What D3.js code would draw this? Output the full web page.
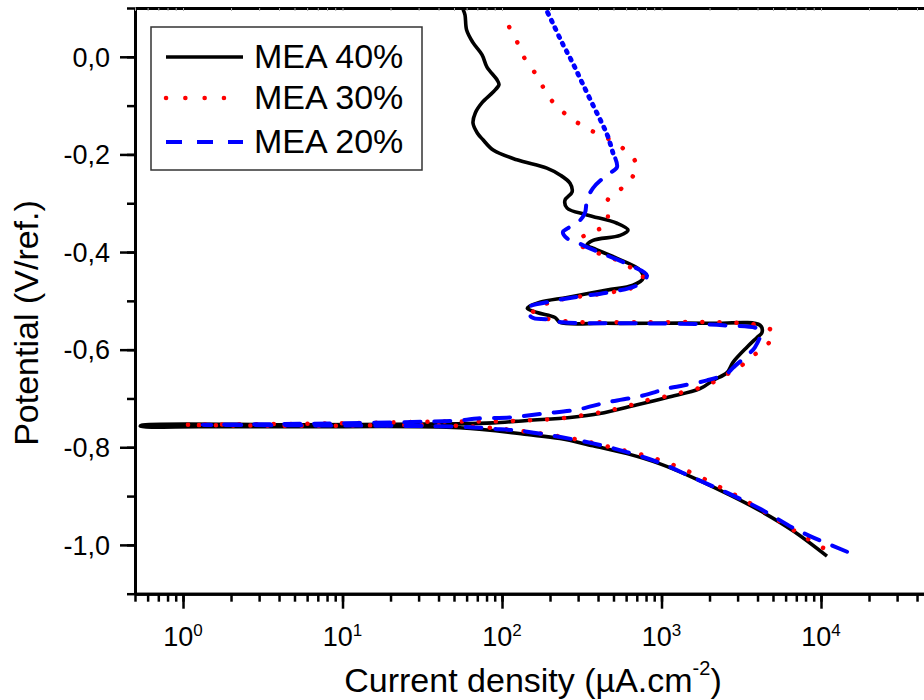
<!DOCTYPE html>
<html>
<head>
<meta charset="utf-8">
<script src="https://cdn.jsdelivr.net/npm/d3@7"></script>
<style>
  body { margin: 0; background: #fff; }
  svg { display: block; font-family: "Liberation Sans", Arial, sans-serif; }
</style>
</head>
<body>
<svg id="chart" width="924" height="700"></svg>
<script>
// polarization curves, [current density µA/cm², potential V/ref], in scan order
const seriesNames = ["MEA 40%", "MEA 30%", "MEA 20%"]

const mea40 = [
  [10900, -1.023], [6670, -0.971], [4150, -0.930], [2574, -0.895], [1575, -0.862],
  [979, -0.834], [608, -0.813], [372, -0.797], [231, -0.782], [144, -0.774],
  [54.5, -0.760], [5.4, -0.758], [1.28, -0.758], [0.54, -0.757], [0.55, -0.755],
  [5.4, -0.754], [54.5, -0.752], [88, -0.750], [144, -0.745], [267, -0.739],
  [411, -0.731], [663, -0.715], [1082, -0.698], [1743, -0.680], [2103, -0.663],
  [2574, -0.647], [2807, -0.626], [3433, -0.595], [3970, -0.575], [4266, -0.565],
  [4150, -0.550], [1928, -0.546], [455, -0.546], [231, -0.544], [215, -0.534],
  [166, -0.524], [144, -0.515], [173, -0.503], [256, -0.493], [455, -0.478],
  [663, -0.468], [766, -0.454], [733, -0.437], [526, -0.413], [372, -0.392],
  [341, -0.386], [372, -0.376], [550, -0.366], [617, -0.355], [526, -0.341],
  [341, -0.324], [256, -0.310], [248, -0.294], [275, -0.277], [267, -0.259],
  [231, -0.242], [191, -0.228], [124, -0.211], [88, -0.191], [76, -0.170],
  [70, -0.156], [65.8, -0.136], [68, -0.115], [75, -0.094], [88, -0.072],
  [95.7, -0.057], [93, -0.047], [80.5, -0.021], [75, 0.004], [65.8, 0.029],
  [60, 0.055], [58.6, 0.086], [57, 0.097]
]

const mea30 = [
  [10300, -1.006], [7710, -0.982], [5000, -0.943], [3105, -0.903], [2430, -0.885],
  [1445, -0.848], [872, -0.821], [496, -0.801], [295, -0.784], [126, -0.766],
  [54.5, -0.756], [5.4, -0.756], [1.03, -0.754], [5.4, -0.752], [54.5, -0.747],
  [88, -0.747], [144, -0.745], [231, -0.741], [372, -0.731], [496, -0.723],
  [653, -0.713], [847, -0.702], [1130, -0.694], [1466, -0.684], [1928, -0.674],
  [2395, -0.655], [3017, -0.639], [3589, -0.616], [4456, -0.595], [5050, -0.565],
  [4030, -0.550], [2430, -0.544], [733, -0.544], [256, -0.542], [181, -0.534],
  [156, -0.520], [200, -0.503], [279, -0.493], [475, -0.483], [663, -0.472],
  [766, -0.448], [635, -0.431], [496, -0.413], [356, -0.396], [295, -0.380],
  [351, -0.361], [449, -0.345], [462, -0.318], [462, -0.292], [565, -0.269],
  [663, -0.244], [692, -0.218], [590, -0.191], [475, -0.170], [367, -0.152],
  [291, -0.133], [241, -0.113], [203, -0.088], [181, -0.062], [161, -0.033],
  [141, -0.008], [130, 0.018], [109, 0.066], [100, 0.092]
]

const mea20 = [
  [14560, -1.014], [8530, -0.982], [6670, -0.965], [4150, -0.926], [2574, -0.893],
  [1575, -0.862], [979, -0.832], [608, -0.810], [372, -0.792], [144, -0.768],
  [88, -0.762], [54.5, -0.758], [5.4, -0.755], [1.33, -0.754], [5.4, -0.752],
  [54.5, -0.745], [70, -0.741], [112, -0.739], [181, -0.731], [295, -0.723],
  [455, -0.708], [766, -0.694], [1082, -0.680], [1928, -0.663], [2574, -0.649],
  [2807, -0.637], [3433, -0.612], [3856, -0.595], [4150, -0.561], [2430, -0.550],
  [733, -0.546], [241, -0.544], [191, -0.538], [154, -0.534], [144, -0.515],
  [191, -0.503], [279, -0.493], [455, -0.483], [702, -0.468], [811, -0.448],
  [635, -0.427], [455, -0.407], [341, -0.390], [295, -0.380], [256, -0.372],
  [241, -0.359], [259, -0.351], [300, -0.339], [331, -0.320], [341, -0.294],
  [372, -0.269], [455, -0.242], [526, -0.226], [496, -0.197], [462, -0.164],
  [429, -0.140], [377, -0.103], [318, -0.053], [275, -0.010], [238, 0.029],
  [206, 0.072], [189, 0.097]
]

const potentialTicks = [-1.1, -1.0, -0.9, -0.8, -0.7, -0.6, -0.5, -0.4, -0.3, -0.2, -0.1, 0.0, 0.1]
const potentialLabels = [-1.0, -0.8, -0.6, -0.4, -0.2, 0.0]
const currentDecades = [1, 10, 100, 1000, 10000, 100000]
const decadeExponents = ["0", "1", "2", "3", "4", "5"]

const svg = d3.select("#chart")
const x = d3.scaleLog().domain([0.5, 1e5]).range([135, 980.5])
const y = d3.scaleLinear().domain([-1.1, 0.1]).range([593.7, 8])

// axes: minor ticks short, labelled ticks long, all outward
const styleAxis = (g) => {
  g.select(".domain").attr("stroke", "#000").attr("stroke-width", 3)
  g.selectAll(".tick line").attr("stroke", "#000").attr("stroke-width", 2.5)
}

svg.append("g")
  .attr("transform", "translate(0,593.7)")
  .call(d3.axisBottom(x).tickValues(x.ticks()).tickSize(8).tickSizeOuter(0).tickFormat(""))
  .call(styleAxis)
svg.append("g")
  .attr("transform", "translate(0,593.7)")
  .call(d3.axisBottom(x).tickValues(currentDecades).tickSize(15).tickSizeOuter(0).tickFormat(""))
  .call(styleAxis)

svg.append("g")
  .attr("transform", "translate(135,0)")
  .call(d3.axisLeft(y).tickValues(potentialTicks).tickSize(8).tickSizeOuter(0).tickFormat(""))
  .call(styleAxis)
svg.append("g")
  .attr("transform", "translate(135,0)")
  .call(d3.axisLeft(y).tickValues(potentialLabels).tickSize(15).tickSizeOuter(0).tickFormat(""))
  .call(styleAxis)

// top frame
svg.append("g")
  .attr("transform", "translate(0,8)")
  .call(d3.axisTop(x).tickValues(x.ticks()).tickSize(-3).tickSizeOuter(0).tickFormat(""))
  .call((g) => {
    g.select(".domain").attr("stroke", "#000").attr("stroke-width", 3)
    g.selectAll(".tick line").attr("stroke", "#aaa").attr("stroke-width", 1)
  })

// tick labels
svg.append("g")
  .selectAll("text")
  .data(potentialLabels)
  .enter()
  .append("text")
  .attr("x", 110)
  .attr("y", (d) => y(d))
  .attr("dy", "0.36em")
  .attr("text-anchor", "end")
  .attr("font-size", 27)
  .text((d) => d3.format(".1f")(d).replace(".", ",").replace("−", "-"))

const xLabels = svg.append("g")
  .selectAll("text")
  .data(currentDecades.slice(0, 5))
  .enter()
  .append("text")
  .attr("x", (d) => x(d))
  .attr("y", 646)
  .attr("text-anchor", "middle")
  .attr("font-size", 27)
xLabels.append("tspan").text("10")
xLabels.append("tspan")
  .attr("font-size", 17)
  .attr("dy", -10)
  .text((d, i) => decadeExponents[i])

// axis titles
const xTitle = svg.append("text")
  .attr("x", 533)
  .attr("y", 692)
  .attr("text-anchor", "middle")
  .attr("font-size", 34)
xTitle.append("tspan").text("Current density (µA.cm")
xTitle.append("tspan").attr("font-size", 20).attr("dy", -17).text("-2")
xTitle.append("tspan").attr("dy", 17).text(")")

svg.append("text")
  .attr("transform", "translate(38,323) rotate(-90)")
  .attr("text-anchor", "middle")
  .attr("font-size", 34)
  .text("Potential (V/ref.)")

// curves
svg.append("clipPath").attr("id", "plot-clip")
  .append("rect").attr("x", 135).attr("y", 8).attr("width", 846).attr("height", 586)

const line = d3.line()
  .x((d) => x(d[0]))
  .y((d) => y(d[1]))
  .curve(d3.curveCatmullRom.alpha(0.5))

const plot = svg.append("g").attr("clip-path", "url(#plot-clip)")

const drawCurve = (data, color, width, dash) => {
  plot.append("path")
    .datum(data)
    .attr("d", line)
    .attr("fill", "none")
    .attr("stroke", color)
    .attr("stroke-width", width)
    .attr("stroke-linecap", dash ? "round" : "butt")
    .attr("stroke-linejoin", "round")
    .attr("stroke-dasharray", dash)
}

drawCurve(mea40, "#000", 3.6, null)
drawCurve(mea30, "#ff0000", 4.5, "0.1,17")
// the top of the 20% curve is drawn with dense short dashes
const blueSplit = mea20.findIndex((d, i) => i > 30 && d[1] > -0.2)
drawCurve(mea20.slice(0, blueSplit + 1), "#0000ff", 4, "16,14")
drawCurve(mea20.slice(blueSplit), "#0000ff", 4.8, "2,6.5")

// legend
const legend = svg.append("g")
legend.append("rect")
  .attr("x", 151).attr("y", 27)
  .attr("width", 271).attr("height", 143)
  .attr("fill", "#fff")
  .attr("stroke", "#333")
  .attr("stroke-width", 1.5)

const legendStyles = [
  { color: "#000", width: 3.6, dash: null },
  { color: "#ff0000", width: 4.5, dash: "0.1,19.2" },
  { color: "#0000ff", width: 4, dash: "16,15" },
]
const legendRows = [57, 98, 142]

legend.selectAll("line")
  .data(seriesNames)
  .enter()
  .append("line")
  .attr("x1", 166).attr("x2", 243)
  .attr("y1", (d, i) => legendRows[i])
  .attr("y2", (d, i) => legendRows[i])
  .attr("stroke", (d, i) => legendStyles[i].color)
  .attr("stroke-width", (d, i) => legendStyles[i].width)
  .attr("stroke-linecap", (d, i) => (i === 1 ? "round" : "butt"))
  .attr("stroke-dasharray", (d, i) => legendStyles[i].dash)

legend.selectAll("text")
  .data(seriesNames)
  .enter()
  .append("text")
  .attr("x", 254)
  .attr("y", (d, i) => legendRows[i])
  .attr("dy", "0.33em")
  .attr("font-size", 34)
  .text((d) => d)
</script>
</body>
</html>
